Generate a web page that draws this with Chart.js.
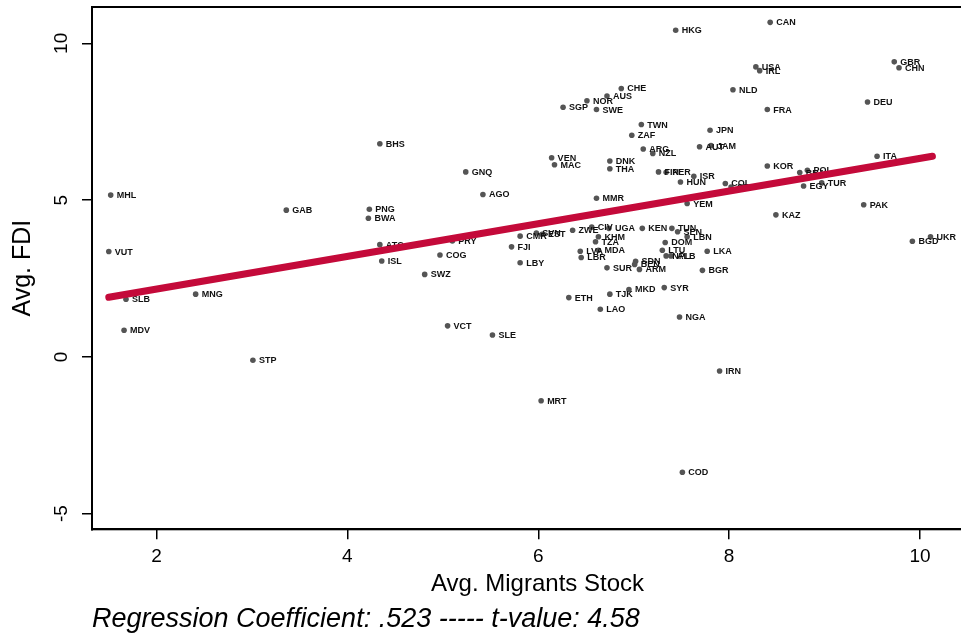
<!DOCTYPE html>
<html>
<head>
<meta charset="utf-8">
<script src="https://cdn.jsdelivr.net/npm/chart.js@4.4.1/dist/chart.umd.min.js"></script>
<style>
html,body{margin:0;padding:0;background:#fff;overflow:hidden;}
#wrap{width:961px;height:639px;overflow:hidden;}
</style>
</head>
<body>
<div id="wrap"><canvas id="c" width="987" height="639"></canvas></div>
<script>
const countries = ["CAN","HKG","USA","IRL","GBR","CHN","CHE","AUS","NOR","SGP","SWE","NLD","FRA","DEU","TWN","JPN","ZAF","ARG","NZL","AUT","JAM","VEN","MAC","DNK","THA","FIN","PER","ISR","HUN","COL","CRI","KOR","BRA","POL","EGY","TUR","ITA","PAK","KAZ","MMR","YEM","CMR","SVN","EST","FJI","LBY","ZWE","CIV","UGA","KEN","TUN","SEN","LBN","KHM","TZA","DOM","LVA","MDA","LBR","LTU","NPL","ALB","LKA","SDN","BEN","SUR","ARM","BGR","MKD","SYR","ETH","TJK","LAO","NGA","BHS","GNQ","AGO","MHL","GAB","PNG","BWA","ATG","PRY","VUT","ISL","COG","SWZ","SLB","MNG","MDV","VCT","SLE","STP","MRT","IRN","COD","BGD","UKR"];
const migrantStock = [8.43,7.44,8.28,8.32,9.73,9.78,6.87,6.72,6.51,6.26,6.61,8.04,8.40,9.45,7.08,7.80,6.98,7.10,7.20,7.69,7.81,6.14,6.17,6.75,6.75,7.26,7.34,7.63,7.49,7.96,8.02,8.40,8.74,8.82,8.78,8.97,9.55,9.41,8.49,6.61,7.56,5.81,5.98,6.04,5.72,5.81,6.36,6.56,6.74,7.09,7.40,7.46,7.56,6.63,6.60,7.33,6.44,6.63,6.45,7.30,7.34,7.39,7.77,7.02,7.01,6.72,7.06,7.72,6.95,7.32,6.32,6.75,6.65,7.48,4.34,5.24,5.42,1.52,3.36,4.23,4.22,4.34,5.10,1.50,4.36,4.97,4.81,1.68,2.41,1.66,5.05,5.52,3.01,6.03,7.90,7.51,9.92,10.11];
const avgFDI = [10.67,10.42,9.25,9.13,9.41,9.22,8.56,8.32,8.17,7.96,7.89,8.52,7.89,8.13,7.41,7.23,7.07,6.63,6.49,6.70,6.74,6.35,6.13,6.25,6.00,5.90,5.89,5.76,5.58,5.53,5.42,6.09,5.88,5.95,5.45,5.55,6.40,4.85,4.53,5.06,4.89,3.85,3.95,3.91,3.51,3.00,4.04,4.14,4.10,4.10,4.10,3.99,3.83,3.83,3.67,3.65,3.37,3.40,3.17,3.40,3.22,3.22,3.37,3.05,2.95,2.84,2.79,2.76,2.15,2.21,1.89,2.00,1.52,1.27,6.80,5.90,5.18,5.16,4.68,4.71,4.42,3.58,3.70,3.36,3.06,3.25,2.63,1.84,2.00,0.85,0.99,0.70,-0.11,-1.40,-0.45,-3.68,3.69,3.83];
const fitX = [1.50, 10.13];
const fitY = [1.90, 6.40];
const xTicks = [2, 4, 6, 8, 10];
const yTicks = [-5, 0, 5, 10];
const noteText = "Regression Coefficient: .523 ----- t-value: 4.58";
const xTitle = "Avg. Migrants Stock";
const yTitle = "Avg. FDI";

const FONT = '"Liberation Sans", Arial, sans-serif';

const scatterData = migrantStock.map((x, i) => ({x: x, y: avgFDI[i]}));
const fitData = fitX.map((x, i) => ({x: x, y: fitY[i]}));

const labelPlugin = {
  id: 'pointLabels',
  afterDatasetDraw(chart, args) {
    if (args.index !== 1) return;
    const ctx = chart.ctx;
    ctx.save();
    ctx.font = 'bold 9px ' + FONT;
    ctx.fillStyle = '#111';
    ctx.textBaseline = 'middle';
    ctx.textAlign = 'left';
    args.meta.data.forEach((pt, i) => {
      ctx.fillText(countries[i], pt.x + 6, pt.y + 0.5);
    });
    ctx.restore();
  }
};

const framePlugin = {
  id: 'frame',
  afterDraw(chart) {
    const a = chart.chartArea;
    const ctx = chart.ctx;
    ctx.save();
    ctx.strokeStyle = '#000';
    ctx.lineWidth = 2;
    ctx.strokeRect(a.left, a.top, a.right - a.left, a.bottom - a.top);
    ctx.restore();
  }
};

new Chart(document.getElementById('c'), {
  type: 'scatter',
  data: {
    datasets: [
      {
        type: 'line',
        data: fitData,
        borderColor: '#c40a3a',
        borderWidth: 7,
        borderCapStyle: 'round',
        pointRadius: 0,
        fill: false,
        showLine: true
      },
      {
        type: 'scatter',
        data: scatterData,
        pointRadius: 2.8,
        pointBackgroundColor: '#555',
        pointBorderWidth: 0,
        pointBorderColor: '#555'
      }
    ]
  },
  options: {
    responsive: false,
    animation: false,
    events: [],
    layout: { padding: { left: 0, top: 7, right: 1, bottom: 0 } },
    plugins: {
      legend: { display: false },
      tooltip: { enabled: false },
      title: {
        display: true,
        position: 'bottom',
        align: 'start',
        fullSize: false,
        text: noteText,
        color: '#000',
        font: { family: FONT, size: 27, style: 'italic', weight: 'normal', lineHeight: 1.1 },
        padding: { top: 4, bottom: 5 }
      }
    },
    scales: {
      x: {
        type: 'linear',
        min: 1.324,
        max: 10.66,
        afterBuildTicks(scale) { scale.ticks = xTicks.map(v => ({value: v})); },
        afterFit(scale) { scale.height = 71; scale.paddingLeft = 0; scale.paddingRight = 0; },
        grid: { drawOnChartArea: false, drawTicks: true, tickLength: 10, color: '#000', lineWidth: 1.5 },
        border: { display: true, color: '#000', width: 2 },
        ticks: { color: '#000', font: { family: FONT, size: 19 }, padding: 6, maxRotation: 0, minRotation: 0 },
        title: { display: true, text: xTitle, color: '#000', font: { family: FONT, size: 24, lineHeight: 1 }, padding: { top: 0, bottom: 4 } }
      },
      y: {
        type: 'linear',
        min: -5.5,
        max: 11.16,
        afterBuildTicks(scale) { scale.ticks = yTicks.map(v => ({value: v})); },
        afterFit(scale) { scale.width = 92; scale.paddingTop = 0; scale.paddingBottom = 0; },
        grid: { drawOnChartArea: false, drawTicks: true, tickLength: 10, color: '#000', lineWidth: 1.5 },
        border: { display: true, color: '#000', width: 2 },
        ticks: { color: '#000', font: { family: FONT, size: 19 }, padding: 10, minRotation: 90, maxRotation: 90, crossAlign: 'center' },
        title: { display: true, text: yTitle, color: '#000', font: { family: FONT, size: 25, lineHeight: 1 }, padding: { top: 11, bottom: 0 } }
      }
    }
  },
  plugins: [labelPlugin, framePlugin]
});
</script>
</body>
</html>
